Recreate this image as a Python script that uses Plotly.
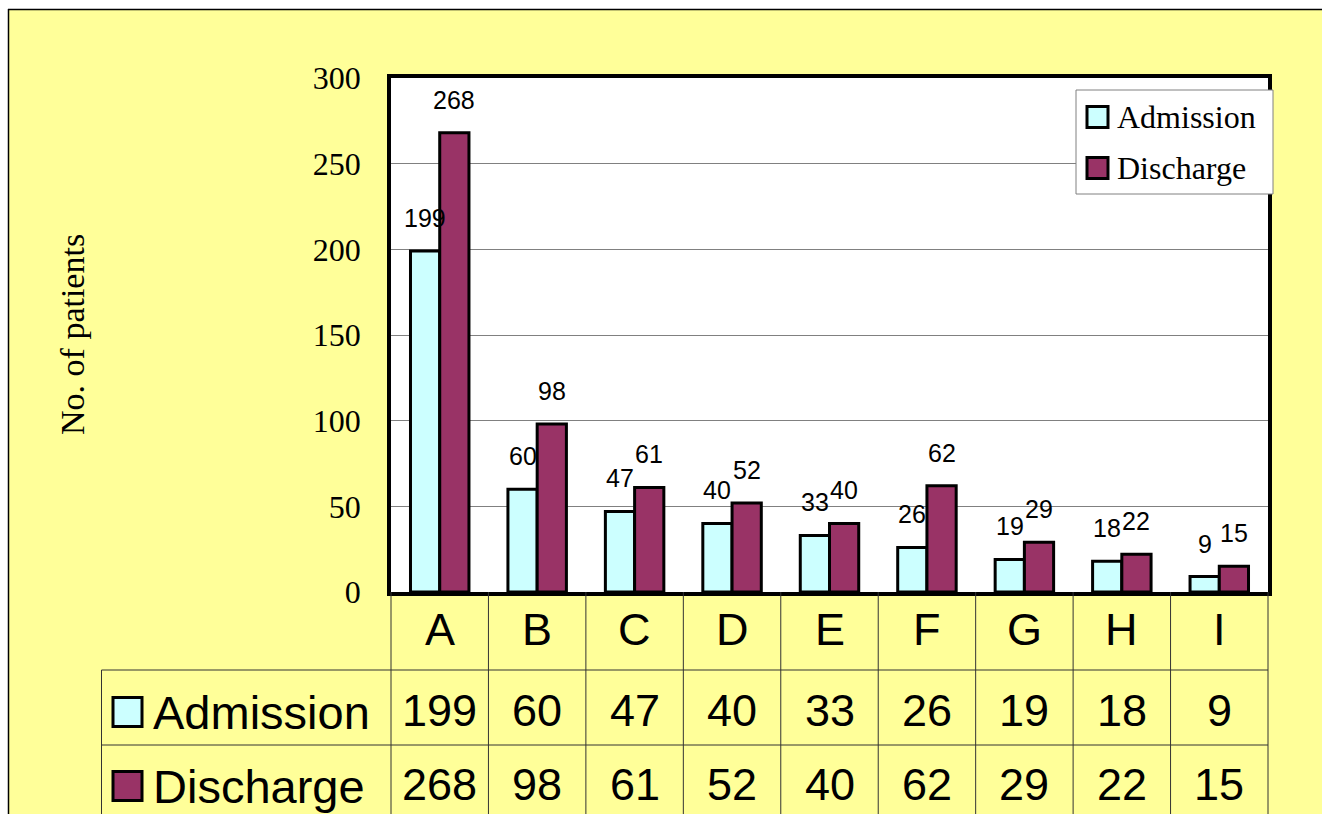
import plotly.graph_objects as go

categories = ["A", "B", "C", "D", "E", "F", "G", "H", "I"]
admission = [199, 60, 47, 40, 33, 26, 19, 18, 9]
discharge = [268, 98, 61, 52, 40, 62, 29, 22, 15]
series_names = ["Admission", "Discharge"]
y_ticks = [0, 50, 100, 150, 200, 250, 300]

W, H = 1322, 814
L, R, T, B = 391, 54, 78, 222
PW, PH = W - L - R, H - T - B

def px(x):
    return (x - L) / PW

def py(y):
    return (H - B - y) / PH

ADM_COLOR = "#CCFFFF"
DIS_COLOR = "#993366"
YELLOW = "#FFFF99"
SERIF = "Liberation Serif, Times New Roman, serif"
SANS = "Liberation Sans, Arial, sans-serif"

fig = go.Figure()
fig.add_trace(go.Bar(x=categories, y=admission, name=series_names[0],
                     marker=dict(color=ADM_COLOR, line=dict(color="black", width=3)),
                     showlegend=False))
fig.add_trace(go.Bar(x=categories, y=discharge, name=series_names[1],
                     marker=dict(color=DIS_COLOR, line=dict(color="black", width=3)),
                     showlegend=False))

shapes = []
annotations = []

# white outer margin + frame
shapes.append(dict(type="rect", xref="paper", yref="paper", x0=px(-10), x1=px(8), y0=py(830), y1=py(-10),
                   fillcolor="white", line=dict(width=0), layer="above"))
shapes.append(dict(type="rect", xref="paper", yref="paper", x0=px(-10), x1=px(1340), y0=py(9), y1=py(-10),
                   fillcolor="white", line=dict(width=0), layer="above"))
shapes.append(dict(type="line", xref="paper", yref="paper", x0=px(8.5), x1=px(8.5), y0=py(830), y1=py(9),
                   line=dict(color="black", width=1.5), layer="above"))
shapes.append(dict(type="line", xref="paper", yref="paper", x0=px(8), x1=px(1340), y0=py(9.5), y1=py(9.5),
                   line=dict(color="black", width=1.5), layer="above"))

# data labels
for i, c in enumerate(categories):
    annotations.append(dict(x=c, y=admission[i], xref="x", yref="y", text=str(admission[i]),
                            showarrow=False, xshift=-14.6, yshift=33, yanchor="middle",
                            font=dict(family=SANS, size=25, color="black")))
    annotations.append(dict(x=c, y=discharge[i], xref="x", yref="y", text=str(discharge[i]),
                            showarrow=False, xshift=14.6, yshift=33, yanchor="middle",
                            font=dict(family=SANS, size=25, color="black")))

# data table
LINE_C = "#333333"
col_w = PW / len(categories)
for k in range(len(categories) + 1):
    xx = L + k * col_w
    shapes.append(dict(type="line", xref="paper", yref="paper", x0=px(xx), x1=px(xx), y0=py(592), y1=py(830),
                       line=dict(color=LINE_C, width=1)))
shapes.append(dict(type="line", xref="paper", yref="paper", x0=px(101.5), x1=px(101.5), y0=py(670), y1=py(830),
                   line=dict(color=LINE_C, width=1)))
for yy in (670, 745):
    shapes.append(dict(type="line", xref="paper", yref="paper", x0=px(101.5), x1=px(L + PW), y0=py(yy), y1=py(yy),
                       line=dict(color=LINE_C, width=1)))

for i, c in enumerate(categories):
    annotations.append(dict(x=c, y=py(629), xref="x", yref="paper", text=c, showarrow=False,
                            yanchor="middle", font=dict(family=SANS, size=45, color="black")))
    annotations.append(dict(x=c, y=py(710), xref="x", yref="paper", text=str(admission[i]), showarrow=False,
                            yanchor="middle", font=dict(family=SANS, size=45, color="black")))
    annotations.append(dict(x=c, y=py(784), xref="x", yref="paper", text=str(discharge[i]), showarrow=False,
                            yanchor="middle", font=dict(family=SANS, size=45, color="black")))

for name, color, yc in ((series_names[0], ADM_COLOR, 712), (series_names[1], DIS_COLOR, 786)):
    shapes.append(dict(type="rect", xref="paper", yref="paper", x0=px(113), x1=px(142),
                       y0=py(yc + 14.5), y1=py(yc - 14.5), fillcolor=color, line=dict(color="black", width=3)))
    annotations.append(dict(x=px(151), y=py(yc), xref="paper", yref="paper", text=name, showarrow=False,
                            xanchor="left", yanchor="middle", font=dict(family=SANS, size=47, color="black")))

# legend (manual)
shapes.append(dict(type="rect", xref="paper", yref="paper", x0=px(1076), x1=px(1273), y0=py(194), y1=py(90),
                   fillcolor="white", line=dict(color="#808080", width=1), layer="above"))
for name, color, yc in ((series_names[0], ADM_COLOR, 117), (series_names[1], DIS_COLOR, 168)):
    shapes.append(dict(type="rect", xref="paper", yref="paper", x0=px(1087), x1=px(1108),
                       y0=py(yc + 10.5), y1=py(yc - 10.5), fillcolor=color,
                       line=dict(color="black", width=3), layer="above"))
    annotations.append(dict(x=px(1115), y=py(yc), xref="paper", yref="paper", text=name, showarrow=False,
                            xanchor="left", yanchor="middle", font=dict(family=SERIF, size=32, color="black")))

# y-axis title
annotations.append(dict(x=px(72), y=py(335), xref="paper", yref="paper", text="No. of patients",
                        showarrow=False, textangle=-90, xanchor="center", yanchor="middle",
                        font=dict(family=SERIF, size=34, color="black")))

fig.update_layout(
    width=W, height=H,
    margin=dict(l=L, r=R, t=T, b=B, pad=0),
    paper_bgcolor=YELLOW, plot_bgcolor="white",
    barmode="group", bargap=0.4, bargroupgap=0,
    showlegend=False,
    shapes=shapes, annotations=annotations,
    xaxis=dict(showticklabels=False, ticks="", showgrid=False, showline=True, linecolor="black",
               linewidth=3.5, mirror=True, zeroline=False),
    yaxis=dict(range=[0, 300], tickvals=y_ticks, ticks="", showgrid=True, gridcolor="#808080", gridwidth=1,
               showline=True, linecolor="black", linewidth=3.5, mirror=True, zeroline=False,
               tickfont=dict(family=SERIF, size=32, color="black"), ticklabelstandoff=20),
)

fig.write_html("out.html", config={"displayModeBar": False},
               post_script="document.body.style.margin='0';document.body.style.overflow='hidden';")
